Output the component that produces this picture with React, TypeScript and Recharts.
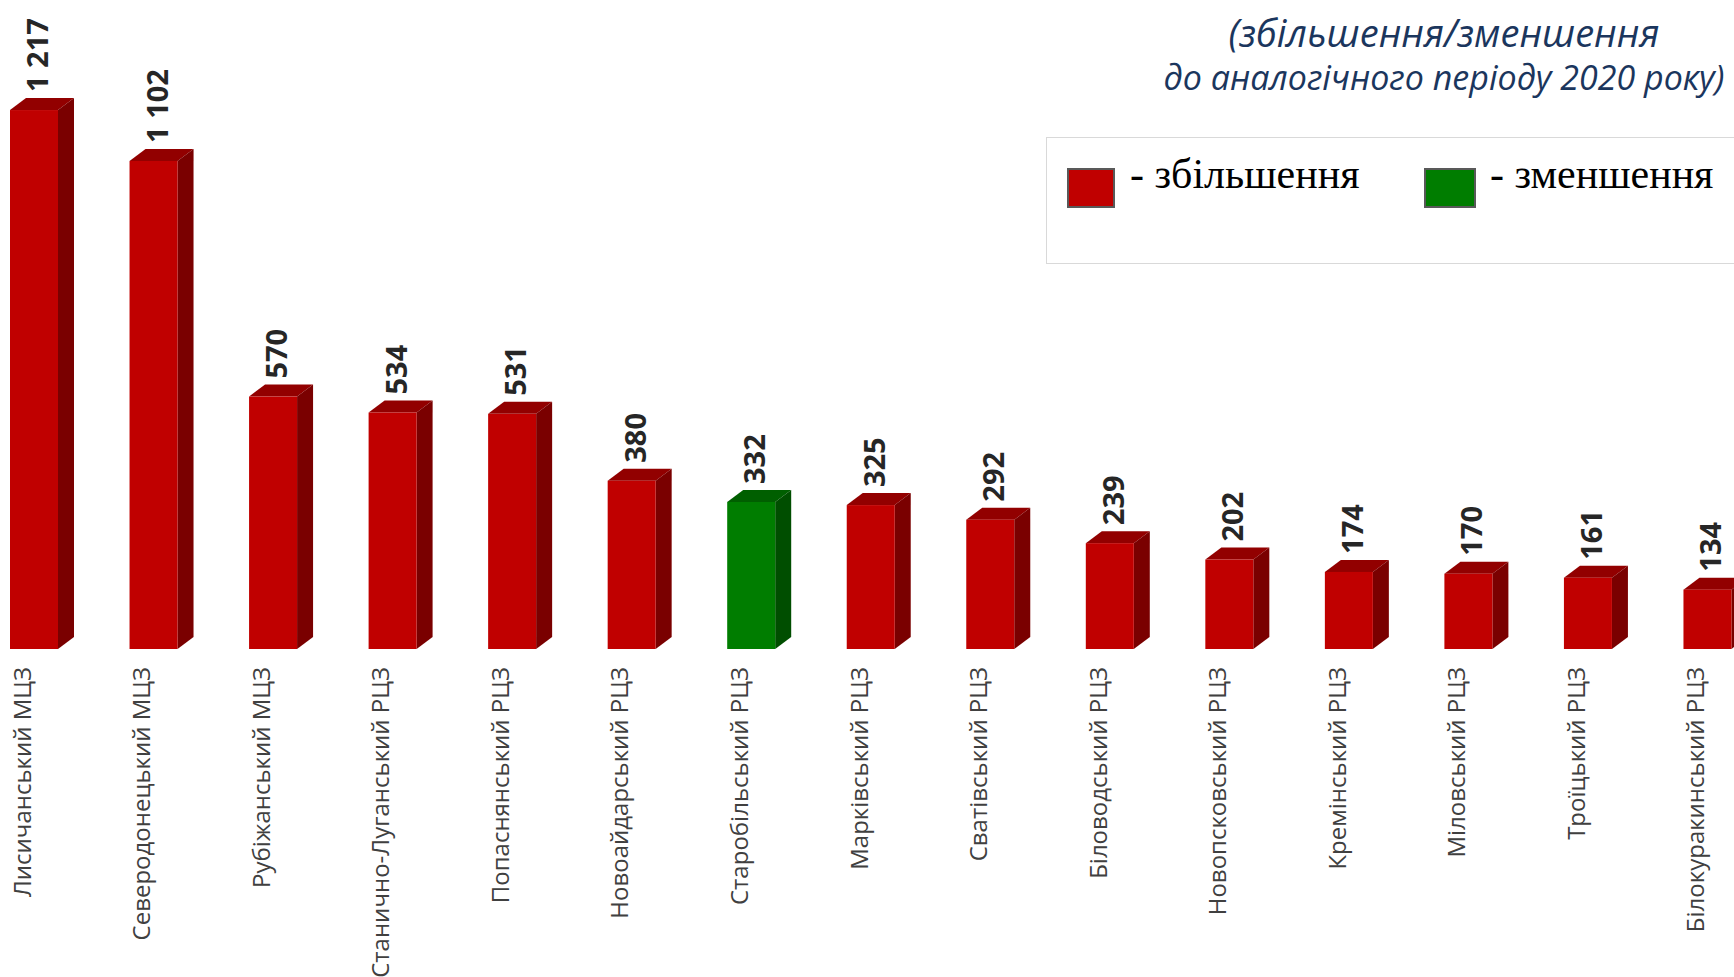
import React from 'react';
import { BarChart, Bar, XAxis, YAxis, LabelList } from 'recharts';

const categories = [
  'Лисичанський МЦЗ',
  'Северодонецький МЦЗ',
  'Рубіжанський МЦЗ',
  'Станично-Луганський РЦЗ',
  'Попаснянський РЦЗ',
  'Новоайдарський РЦЗ',
  'Старобільський РЦЗ',
  'Марківський РЦЗ',
  'Сватівський РЦЗ',
  'Біловодський РЦЗ',
  'Новопсковський РЦЗ',
  'Кремінський РЦЗ',
  'Міловський РЦЗ',
  'Троїцький РЦЗ',
  'Білокуракинський РЦЗ',
];

const values = [1217, 1102, 570, 534, 531, 380, 332, 325, 292, 239, 202, 174, 170, 161, 134];

// 'up' = збільшення, 'down' = зменшення
const trend = ['up', 'up', 'up', 'up', 'up', 'up', 'down', 'up', 'up', 'up', 'up', 'up', 'up', 'up', 'up'];

const data = categories.map((name, i) => ({ name, value: values[i], trend: trend[i] }));

const palette: Record<string, { front: string; top: string; side: string }> = {
  up: { front: '#C00000', top: '#920000', side: '#7A0000' },
  down: { front: '#007D00', top: '#005F00', side: '#004E00' },
};

const DX = 16;
const DY = 12;

const Box3D = (props: any) => {
  const { x, y, width, height, payload } = props;
  if (height == null || height <= 0) return null;
  const c = palette[payload.trend];
  return (
    <g>
      <polygon
        points={`${x},${y} ${x + width},${y} ${x + width + DX},${y - DY} ${x + DX},${y - DY}`}
        fill={c.top}
      />
      <polygon
        points={`${x + width},${y} ${x + width + DX},${y - DY} ${x + width + DX},${y + height - DY} ${x + width},${y + height}`}
        fill={c.side}
      />
      <rect x={x} y={y} width={width} height={height} fill={c.front} />
    </g>
  );
};

const ValueLabel = (props: any) => {
  const { x, y, value } = props;
  const lx = x + 38;
  const ly = y - 18;
  const text = value >= 1000 ? `${Math.floor(value / 1000)} ${String(value % 1000).padStart(3, '0')}` : String(value);
  return (
    <text
      x={lx}
      y={ly}
      transform={`rotate(-90 ${lx} ${ly})`}
      textAnchor="start"
      fontFamily="'Open Sans', sans-serif"
      fontWeight={700}
      fontSize={29}
      fill="#262626"
    >
      {text}
    </text>
  );
};

const CategoryTick = (props: any) => {
  const { x, payload } = props;
  const tx = x - 3;
  const ty = 667;
  return (
    <text
      x={tx}
      y={ty}
      transform={`rotate(-90 ${tx} ${ty})`}
      textAnchor="end"
      fontFamily="'Open Sans', sans-serif"
      fontSize={24}
      fill="#404040"
    >
      {payload.value}
    </text>
  );
};

const titleStyle: React.CSSProperties = {
  position: 'absolute',
  left: 1044,
  width: 800,
  textAlign: 'center',
  fontFamily: "'Open Sans', sans-serif",
  fontStyle: 'italic',
  color: '#1B365D',
  whiteSpace: 'nowrap',
};

const legendText: React.CSSProperties = {
  position: 'absolute',
  top: 153,
  fontFamily: "'Liberation Serif', serif",
  fontSize: 42,
  lineHeight: '42px',
  color: '#000',
  whiteSpace: 'nowrap',
};

export default function App() {
  return (
    <div
      style={{
        position: 'absolute',
        left: 0,
        top: 0,
        width: 1734,
        height: 977,
        overflow: 'hidden',
        background: '#fff',
      }}
    >
      <div style={{ position: 'absolute', left: -26, top: 0 }}>
        <BarChart width={1793} height={977} data={data} margin={{ top: 29, right: 0, left: 0, bottom: 0 }}>
          <XAxis
            dataKey="name"
            interval={0}
            axisLine={false}
            tickLine={false}
            height={328}
            tick={<CategoryTick />}
          />
          <YAxis hide domain={[0, 1400]} />
          <Bar dataKey="value" barSize={48} shape={<Box3D />} isAnimationActive={false}>
            <LabelList dataKey="value" content={<ValueLabel />} />
          </Bar>
        </BarChart>
      </div>

      <div style={{ ...titleStyle, top: 13, fontSize: 38, lineHeight: '38px' }}>(збільшення/зменшення</div>
      <div style={{ ...titleStyle, top: 60, fontSize: 34, lineHeight: '34px' }}>до аналогічного періоду 2020 року)</div>

      <div
        style={{
          position: 'absolute',
          left: 1046,
          top: 137,
          width: 720,
          height: 127,
          border: '1px solid #D9D9D9',
          boxSizing: 'border-box',
        }}
      />
      <div
        style={{
          position: 'absolute',
          left: 1067,
          top: 168,
          width: 48,
          height: 40,
          background: '#C00000',
          border: '2px solid #595959',
          boxSizing: 'border-box',
        }}
      />
      <div style={{ ...legendText, left: 1130 }}>- збільшення</div>
      <div
        style={{
          position: 'absolute',
          left: 1424,
          top: 168,
          width: 52,
          height: 40,
          background: '#007D00',
          border: '2px solid #595959',
          boxSizing: 'border-box',
        }}
      />
      <div style={{ ...legendText, left: 1490 }}>- зменшення</div>
    </div>
  );
}
